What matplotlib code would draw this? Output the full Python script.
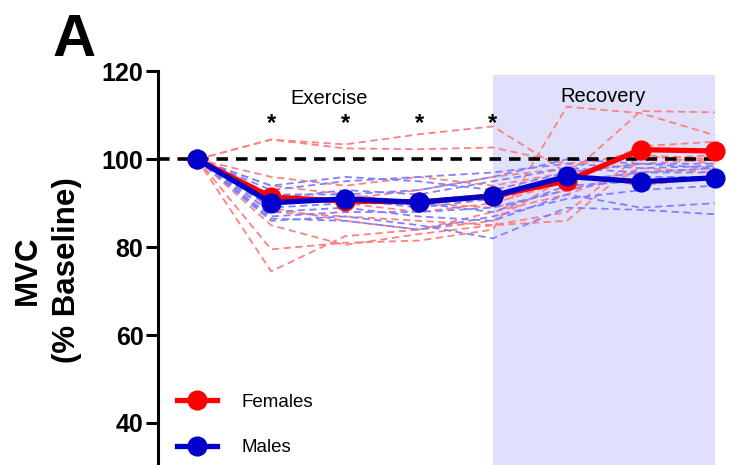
import matplotlib.pyplot as plt

plt.rcParams['font.family'] = ['Liberation Sans', 'DejaVu Sans']

# time points (baseline, 4 exercise, 3 recovery)
timepoints = [0, 1, 2, 3, 4, 5, 6, 7]

# group means (% baseline)
females_mean = [100, 91.4, 90.5, 90.3, 91.6, 95.1, 102.2, 101.9]
males_mean = [100, 90.1, 91.0, 90.2, 91.7, 96.1, 94.9, 95.8]

# individual subjects
females_ind = [
    [100, 104.5, 103.4, 105.7, 107.5, 97.0, 94.0, 96.0],
    [100, 104.5, 102.5, 102.3, 102.7, 99.0, 101.0, 100.0],
    [100, 74.5, 82.5, 84.0, 86.0, 96.0, 111.0, 110.7],
    [100, 79.5, 81.0, 81.5, 84.0, 112.0, 110.5, 105.5],
    [100, 85.0, 80.5, 83.0, 85.0, 86.0, 100.0, 101.0],
    [100, 88.0, 87.0, 86.0, 85.0, 88.0, 101.0, 99.0],
    [100, 92.0, 90.0, 88.0, 90.0, 95.0, 103.0, 104.0],
    [100, 94.0, 92.0, 90.0, 89.0, 93.0, 97.0, 98.0],
    [100, 96.0, 94.0, 96.0, 94.0, 97.0, 99.0, 100.0],
    [100, 90.0, 91.0, 93.0, 96.0, 98.0, 102.0, 102.0],
    [100, 89.0, 86.0, 84.0, 88.0, 92.0, 98.0, 97.0],
]
males_ind = [
    [100, 93.0, 95.0, 96.0, 97.0, 99.0, 98.0, 98.5],
    [100, 94.0, 96.0, 95.0, 93.0, 97.0, 99.0, 99.0],
    [100, 90.0, 91.0, 89.0, 91.0, 95.0, 97.0, 97.0],
    [100, 88.0, 89.0, 87.0, 86.0, 92.0, 89.0, 90.0],
    [100, 86.0, 87.0, 85.0, 82.0, 89.0, 88.5, 87.5],
    [100, 87.0, 88.0, 88.0, 89.0, 93.0, 96.0, 96.0],
    [100, 91.0, 93.0, 92.0, 95.0, 98.0, 97.0, 98.0],
    [100, 89.0, 90.0, 90.0, 88.0, 94.0, 95.0, 95.5],
    [100, 92.0, 92.0, 93.0, 96.0, 100.0, 99.0, 98.0],
    [100, 86.5, 86.0, 84.0, 87.0, 91.0, 93.0, 94.0],
]

star_points = [1, 2, 3, 4]

fig = plt.figure(figsize=(7.51, 4.65), dpi=100)
ax = fig.add_axes([158 / 751, 0, 593 / 751, 1 - 71.5 / 465])
ax.set_xlim(-0.53, 7.49)
ax.set_ylim(30.4, 120)

# recovery shading
ax.fill_between([4, 7], 30.4, 119.2, color='#e0e0fb', lw=0, zorder=0)

for ys in females_ind:
    ax.plot(timepoints, ys, color='#ff8080', lw=1.3, ls=(0, (4, 2.5)), zorder=1)
for ys in males_ind:
    ax.plot(timepoints, ys, color='#8080ff', lw=1.3, ls=(0, (4, 2.5)), zorder=1)

ax.plot([-0.53, 7], [100, 100], color='black', lw=2.6, ls=(0, (3.2, 2.2)), zorder=2)

ax.plot(timepoints, females_mean, color='#ff0000', lw=3.8, marker='o', ms=13.5,
        label='Females', zorder=3, clip_on=False)
ax.plot(timepoints, males_mean, color='#0000cc', lw=3.8, marker='o', ms=13.5,
        label='Males', zorder=4, clip_on=False)

for xp in star_points:
    ax.text(xp, 108.1, '*', ha='center', va='center', fontsize=17, fontweight='bold')

ax.text(1.79, 112.5, 'Exercise', ha='center', va='baseline', fontsize=14.5)
ax.text(5.49, 113.1, 'Recovery', ha='center', va='baseline', fontsize=14.5)

ax.set_yticks([40, 60, 80, 100, 120])
ax.set_xticks([])
ax.tick_params(axis='y', length=8.5, width=2.2, labelsize=18, pad=2)
for lbl in ax.get_yticklabels():
    lbl.set_fontweight('bold')
for side in ['top', 'right', 'bottom']:
    ax.spines[side].set_visible(False)
ax.spines['left'].set_linewidth(2.2)

fig.text(47 / 751, 1 - 270 / 465, 'MVC\n(% Baseline)', rotation=90, ha='center', va='center',
         fontsize=22.5, fontweight='bold', linespacing=1.4)
fig.text(53 / 751, 1 - 56 / 465, 'A', fontsize=43, fontweight='bold', ha='left', va='baseline')

ax.legend(loc='upper left', bbox_to_anchor=(0.003, 0.224), frameon=False, fontsize=13.5,
          handlelength=2.15, handletextpad=1.3, labelspacing=1.5)

fig.savefig('out.png', dpi=100)
